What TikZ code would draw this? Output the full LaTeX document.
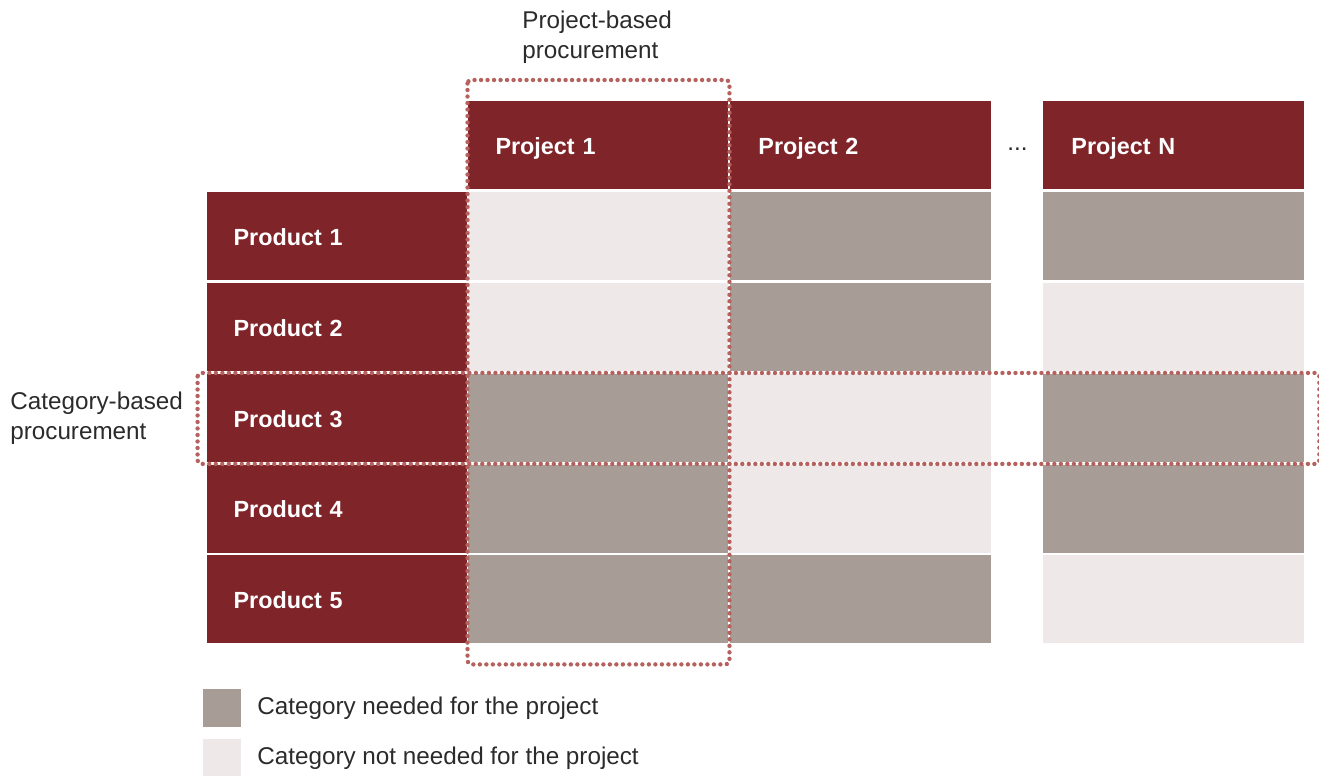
\documentclass[tikz,border=0pt]{standalone}
\usepackage{fontspec}
\setmainfont{Liberation Sans}
\usetikzlibrary{positioning,calc}
\definecolor{wine}{HTML}{7F2429}
\definecolor{needed}{HTML}{A89C97}
\definecolor{notneeded}{HTML}{EEE8E8}
\definecolor{dotred}{HTML}{B5625F}
\definecolor{txt}{HTML}{2B2B2B}
\newcommand{\chartfont}{\fontsize{13.8pt}{17pt}\selectfont}
\newcommand{\headfont}{\fontsize{13.3pt}{16pt}\selectfont\bfseries}
\tikzset{
projhead/.style = {fill=wine, text=white, font=\headfont, align=left,
  text width=4.1cm, inner xsep=0.56cm, inner ysep=0pt, outer sep=0pt,
  minimum height=1.76cm, text height=10.6pt, text depth=0pt},
prodhead/.style = {projhead, text width=4.12cm, inner xsep=0.54cm},
yes/.style = {fill=needed, minimum width=5.22cm, minimum height=1.76cm, inner sep=0pt, outer sep=0pt},
no/.style = {yes, fill=notneeded},
dotbox/.style = {draw=dotred, line width=2.5pt, line cap=round, dash pattern=on 0pt off 3.7pt, rounded corners=2pt},
key/.style = {minimum size=0.76cm, inner sep=0pt, outer sep=0pt},
lbl/.style = {text=txt, font=\chartfont, align=left, inner sep=0pt}
}

\begin{document}
\begin{tikzpicture}[x=0.02cm, y=-0.02cm]
  \useasboundingbox (0,0) rectangle (1319,776);

  % project headers
  \node [projhead]                          (proj1) at (598,145) {Project 1};
  \node [projhead, right=0.04cm of proj1]   (proj2) {Project 2};
  \node [projhead, right=1.04cm of proj2]   (projN) {Project N};
  \node [lbl] at ($(proj2.east)!0.5!(projN.west)+(0,4)$) (more) {...};

  % cells, row by row
  \node [no,  below=0.07cm of proj1]   (c11) {};
  \node [yes, below=0.07cm of proj2]   (c12) {};
  \node [yes, below=0.07cm of projN]   (c1N) {};
  \node [no,  below=0.055cm of c11]    (c21) {};
  \node [yes, below=0.055cm of c12]    (c22) {};
  \node [no,  below=0.055cm of c1N]    (c2N) {};
  \node [yes, below=0.055cm of c21]    (c31) {};
  \node [no,  below=0.055cm of c22]    (c32) {};
  \node [yes, below=0.055cm of c2N]    (c3N) {};
  \node [yes, below=0.055cm of c31]    (c41) {};
  \node [no,  below=0.055cm of c32]    (c42) {};
  \node [yes, below=0.055cm of c3N]    (c4N) {};
  \node [yes, below=0.055cm of c41]    (c51) {};
  \node [yes, below=0.055cm of c42]    (c52) {};
  \node [no,  below=0.055cm of c4N]    (c5N) {};

  % product headers
  \node [prodhead, left=0.02cm of c11] (prod1) {Product 1};
  \node [prodhead, left=0.02cm of c21] (prod2) {Product 2};
  \node [prodhead, left=0.02cm of c31] (prod3) {Product 3};
  \node [prodhead, left=0.02cm of c41] (prod4) {Product 4};
  \node [prodhead, left=0.02cm of c51] (prod5) {Product 5};

  % procurement views
  \draw [dotbox] ($(proj1.north west)+(0,-21)$) rectangle ($(c51.south east)+(1,21)$);
  \draw [dotbox] ($(prod3.north west)+(-9,-1)$) rectangle ($(c3N.south east)+(15,2)$);
  \node [lbl, anchor=west] (projview) at (522,37)  {Project-based\\procurement};
  \node [lbl, anchor=west] (catview)  at (10,418)  {Category-based\\procurement};

  % legend
  \node [key, fill=needed]    (keyyes) at (222,708) {};
  \node [key, fill=notneeded] (keyno)  at (222,758) {};
  \node [lbl, right=0.32cm of keyyes] (keyyestxt) {Category needed for the project};
  \node [lbl, right=0.32cm of keyno]  (keynotxt)  {Category not needed for the project};
\end{tikzpicture}
\end{document}
